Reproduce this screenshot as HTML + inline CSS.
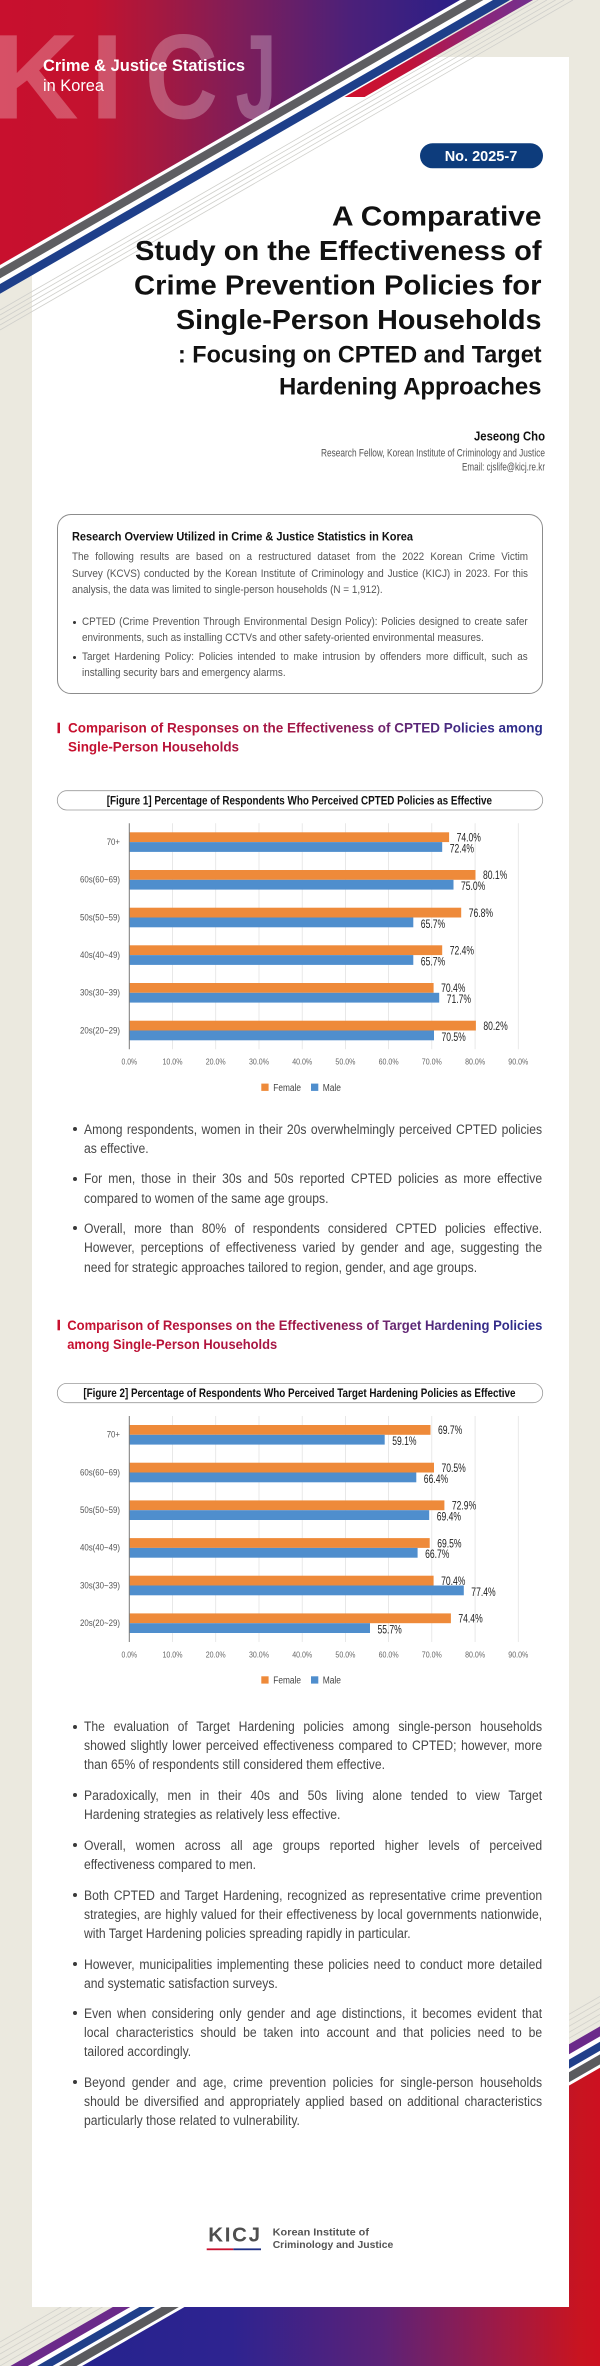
<!DOCTYPE html>
<html><head><meta charset="utf-8">
<style>
*{margin:0;padding:0;box-sizing:border-box}
html,body{width:600px;height:2366px;overflow:hidden;background:#ebe9df}
#p{position:relative;width:600px;height:2366px;overflow:hidden;background:#ebe9df;font-family:"Liberation Sans",Arial,sans-serif}
svg{position:absolute;left:0;top:0}
.card{position:absolute;left:31.5px;top:57px;width:537px;height:2249.7px;background:#fff}
.box{position:absolute;left:57.4px;top:514.3px;width:485.3px;height:179.7px;border:1px solid #8c8c8c;border-radius:14px}
.ln{position:absolute;white-space:nowrap;transform-origin:0 50%}
.j{text-align:justify;text-align-last:justify}
.b{left:84.3px;width:509px;height:19px;font-size:13.5px;line-height:19px;color:#474747;transform:scaleX(.9)}
.x{height:16px;font-size:11px;line-height:16px;color:#555;transform:scaleX(.9)}
.xp{left:72px;width:506.7px}
.xb{left:82.3px;width:495.2px}
.d{position:absolute;width:4px;height:4px;border-radius:50%;background:#3a3a3a}
.ds{position:absolute;width:3.4px;height:3.4px;border-radius:50%;background:#333}
</style></head><body><div id="p">

<!-- bottom decoration (under card) -->
<svg width="600" height="2366" viewBox="0 0 600 2366">
<defs>
<linearGradient id="gb" gradientUnits="userSpaceOnUse" x1="82" y1="0" x2="600" y2="0">
<stop offset="0" stop-color="#26238e"/><stop offset="0.29" stop-color="#2e2390"/><stop offset="0.58" stop-color="#5c2277"/><stop offset="0.81" stop-color="#a01a45"/><stop offset="0.96" stop-color="#c81420"/><stop offset="1" stop-color="#cc1020"/>
</linearGradient>
</defs>
<g stroke="#d3d2cc" stroke-width="0.8">
<line x1="0" y1="2366" x2="600" y2="2020.4"/>
<line x1="0" y1="2360" x2="600" y2="2014.4"/>
<line x1="0" y1="2354" x2="600" y2="2008.4"/>
<line x1="0" y1="2348" x2="600" y2="2002.4"/>
<line x1="0" y1="2342" x2="600" y2="1996.4"/>
</g>
<polygon points="27.8,2366 82.1,2366 600,2067.7 600,2036.4" fill="#fff"/>
<polygon points="10.4,2366 27.8,2366 600,2036.4 600,2026.4" fill="#6b2a8a"/>
<polygon points="37,2366 52.6,2366 600,2050.7 600,2041.7" fill="#203f8a"/>
<polygon points="59,2366 76.4,2366 600,2064.4 600,2054.4" fill="#5a5a5e"/>
<polygon points="82.1,2366 600,2067.7 600,2366" fill="url(#gb)"/>
</svg>

<div class="card"></div>
<div class="box"></div>

<!-- foreground svg -->
<svg width="600" height="2366" viewBox="0 0 600 2366" font-family="Liberation Sans, Arial, sans-serif">
<defs>
<linearGradient id="gt" gradientUnits="userSpaceOnUse" x1="0" y1="0" x2="460" y2="0">
<stop offset="0" stop-color="#c8102e"/><stop offset="0.2" stop-color="#c3122f"/><stop offset="0.33" stop-color="#a8183e"/><stop offset="0.54" stop-color="#7a1e5c"/><stop offset="0.76" stop-color="#4c2079"/><stop offset="1" stop-color="#2a1f88"/>
</linearGradient>
<linearGradient id="gp" gradientUnits="userSpaceOnUse" x1="345" y1="0" x2="533" y2="0">
<stop offset="0" stop-color="#d0102c"/><stop offset="0.35" stop-color="#c0123a"/><stop offset="0.7" stop-color="#8e2478"/><stop offset="1" stop-color="#72308e"/>
</linearGradient>
<linearGradient id="gh" gradientUnits="userSpaceOnUse" x1="68" y1="0" x2="543" y2="0">
<stop offset="0" stop-color="#c8102e"/><stop offset="0.5" stop-color="#a01848"/><stop offset="0.68" stop-color="#6a2670"/><stop offset="0.85" stop-color="#3a2c88"/><stop offset="1" stop-color="#2a2e8c"/>
</linearGradient>
</defs>

<!-- top decoration -->
<g stroke="#d0d0cc" stroke-width="0.8">
<line x1="0" y1="310" x2="538.2" y2="0"/>
<line x1="0" y1="315" x2="546.9" y2="0"/>
<line x1="0" y1="320" x2="555.6" y2="0"/>
<line x1="0" y1="325" x2="564.2" y2="0"/>
<line x1="0" y1="330" x2="572.9" y2="0"/>
</g>
<polygon points="460,0 510,0 0,293.8 0,265" fill="#fff"/>
<polygon points="466.7,0 483.3,0 0,278.4 0,268.8" fill="#5e5e62"/>
<polygon points="493,0 510,0 0,293.8 0,284" fill="#1e3f8a"/>
<polygon points="513,0 533,0 364.6,97 344.6,97" fill="url(#gp)"/>
<polygon points="0,0 460,0 0,265" fill="url(#gt)"/>

<!-- KICJ watermark -->
<g fill="#fff" fill-opacity="0.27" font-weight="bold" font-size="121">
<text x="-8.8" y="118.3">K</text>
<text x="90.3" y="118.3">I</text>
<text x="145" y="118.3" textLength="73" lengthAdjust="spacingAndGlyphs">C</text>
<text x="235.5" y="118.3" textLength="41" lengthAdjust="spacingAndGlyphs">J</text>
</g>
<text x="43" y="70.9" font-size="16.4" font-weight="bold" fill="#fff" textLength="202" lengthAdjust="spacingAndGlyphs">Crime &amp; Justice Statistics</text>
<text x="43" y="90.9" font-size="16.4" fill="#fff" textLength="61" lengthAdjust="spacingAndGlyphs">in Korea</text>

<!-- pill -->
<rect x="420" y="143.3" width="123" height="25" rx="12.5" fill="#0d3c7c"/>
<text x="444.7" y="161" font-size="14.5" font-weight="bold" fill="#fff" textLength="72.6" lengthAdjust="spacingAndGlyphs">No. 2025-7</text>

<!-- title -->
<g fill="#111" font-weight="bold">
<text x="332" y="225.4" font-size="28" textLength="209.5" lengthAdjust="spacingAndGlyphs">A Comparative</text>
<text x="135" y="259.9" font-size="28" textLength="406.5" lengthAdjust="spacingAndGlyphs">Study on the Effectiveness of</text>
<text x="134" y="294.4" font-size="28" textLength="407.5" lengthAdjust="spacingAndGlyphs">Crime Prevention Policies for</text>
<text x="176" y="328.9" font-size="28" textLength="365.5" lengthAdjust="spacingAndGlyphs">Single-Person Households</text>
<text x="178" y="362.6" font-size="24" textLength="363.5" lengthAdjust="spacingAndGlyphs">: Focusing on CPTED and Target</text>
<text x="279" y="394.6" font-size="24" textLength="262.5" lengthAdjust="spacingAndGlyphs">Hardening Approaches</text>
</g>

<!-- author -->
<text x="474" y="440.5" font-size="12.5" font-weight="bold" fill="#111" textLength="71" lengthAdjust="spacingAndGlyphs">Jeseong Cho</text>
<text x="321" y="456.6" font-size="11" fill="#555" textLength="224" lengthAdjust="spacingAndGlyphs">Research Fellow, Korean Institute of Criminology and Justice</text>
<text x="462" y="470.4" font-size="11" fill="#555" textLength="83" lengthAdjust="spacingAndGlyphs">Email: cjslife@kicj.re.kr</text>

<!-- box title -->
<text x="72" y="540.3" font-size="12" font-weight="bold" fill="#111" textLength="341" lengthAdjust="spacingAndGlyphs">Research Overview Utilized in Crime &amp; Justice Statistics in Korea</text>

<!-- heading 1 -->
<rect x="57.5" y="722.7" width="2.5" height="10.5" fill="#c8102e"/>
<g font-size="14" font-weight="bold" fill="url(#gh)">
<text x="68" y="732.7" textLength="474.7" lengthAdjust="spacingAndGlyphs">Comparison of Responses on the Effectiveness of CPTED Policies among</text>
<text x="68" y="751.7" textLength="171" lengthAdjust="spacingAndGlyphs">Single-Person Households</text>
</g>

<!-- heading 2 -->
<rect x="57.5" y="1319.8" width="2.5" height="10.5" fill="#c8102e"/>
<g font-size="14" font-weight="bold" fill="url(#gh)">
<text x="67.2" y="1330" textLength="475.2" lengthAdjust="spacingAndGlyphs">Comparison of Responses on the Effectiveness of Target Hardening Policies</text>
<text x="67.2" y="1349" textLength="210" lengthAdjust="spacingAndGlyphs">among Single-Person Households</text>
</g>

<!-- ===== CHART 1 ===== -->
<rect x="57.3" y="790.7" width="485.4" height="19.3" rx="9.6" fill="#fff" stroke="#9a9a9a" stroke-width="0.8"/>
<text x="106.7" y="804.4" font-size="11.5" font-weight="bold" fill="#111" textLength="385.3" lengthAdjust="spacingAndGlyphs">[Figure 1] Percentage of Respondents Who Perceived CPTED Policies as Effective</text>
<g stroke="#e3e3e3" stroke-width="0.8">
<line x1="172.5" y1="823.3" x2="172.5" y2="1049.3"/><line x1="215.7" y1="823.3" x2="215.7" y2="1049.3"/><line x1="259" y1="823.3" x2="259" y2="1049.3"/><line x1="302.2" y1="823.3" x2="302.2" y2="1049.3"/><line x1="345.4" y1="823.3" x2="345.4" y2="1049.3"/><line x1="388.6" y1="823.3" x2="388.6" y2="1049.3"/><line x1="431.8" y1="823.3" x2="431.8" y2="1049.3"/><line x1="475.1" y1="823.3" x2="475.1" y2="1049.3"/><line x1="518.3" y1="823.3" x2="518.3" y2="1049.3"/>
</g>
<g fill="#ee8a3a">
<rect x="129.3" y="832.3" width="319.8" height="9.8"/>
<rect x="129.3" y="870" width="346.2" height="9.8"/>
<rect x="129.3" y="907.7" width="331.9" height="9.8"/>
<rect x="129.3" y="945.3" width="312.9" height="9.8"/>
<rect x="129.3" y="983" width="304.3" height="9.8"/>
<rect x="129.3" y="1020.7" width="346.6" height="9.8"/>
</g>
<g fill="#4f8ecd">
<rect x="129.3" y="842.1" width="312.9" height="9.8"/>
<rect x="129.3" y="879.8" width="324.2" height="9.8"/>
<rect x="129.3" y="917.5" width="284" height="9.8"/>
<rect x="129.3" y="955.1" width="284" height="9.8"/>
<rect x="129.3" y="992.8" width="309.9" height="9.8"/>
<rect x="129.3" y="1030.5" width="304.7" height="9.8"/>
</g>
<line x1="129.3" y1="823.3" x2="129.3" y2="1049.3" stroke="#7a7a7a" stroke-width="1"/>
<g font-size="11.5" fill="#222">
<text x="456.6" y="841.5" textLength="24.3" lengthAdjust="spacingAndGlyphs">74.0%</text>
<text x="449.7" y="852.4" textLength="24.3" lengthAdjust="spacingAndGlyphs">72.4%</text>
<text x="483" y="879.2" textLength="24.3" lengthAdjust="spacingAndGlyphs">80.1%</text>
<text x="461" y="890.1" textLength="24.3" lengthAdjust="spacingAndGlyphs">75.0%</text>
<text x="468.7" y="916.9" textLength="24.3" lengthAdjust="spacingAndGlyphs">76.8%</text>
<text x="420.8" y="927.8" textLength="24.3" lengthAdjust="spacingAndGlyphs">65.7%</text>
<text x="449.7" y="954.5" textLength="24.3" lengthAdjust="spacingAndGlyphs">72.4%</text>
<text x="420.8" y="965.4" textLength="24.3" lengthAdjust="spacingAndGlyphs">65.7%</text>
<text x="441.1" y="992.2" textLength="24.3" lengthAdjust="spacingAndGlyphs">70.4%</text>
<text x="446.7" y="1003.1" textLength="24.3" lengthAdjust="spacingAndGlyphs">71.7%</text>
<text x="483.4" y="1029.9" textLength="24.3" lengthAdjust="spacingAndGlyphs">80.2%</text>
<text x="441.5" y="1040.8" textLength="24.3" lengthAdjust="spacingAndGlyphs">70.5%</text>
</g>
<g font-size="9" fill="#555">
<text x="106.7" y="844.9" textLength="13.3" lengthAdjust="spacingAndGlyphs">70+</text>
<text x="80" y="882.6" textLength="40" lengthAdjust="spacingAndGlyphs">60s(60~69)</text>
<text x="80" y="920.3" textLength="40" lengthAdjust="spacingAndGlyphs">50s(50~59)</text>
<text x="80" y="957.9" textLength="40" lengthAdjust="spacingAndGlyphs">40s(40~49)</text>
<text x="80" y="995.6" textLength="40" lengthAdjust="spacingAndGlyphs">30s(30~39)</text>
<text x="80" y="1033.3" textLength="40" lengthAdjust="spacingAndGlyphs">20s(20~29)</text>
</g>
<g font-size="8.5" fill="#666">
<text x="121.55" y="1064.6" textLength="15.5" lengthAdjust="spacingAndGlyphs">0.0%</text>
<text x="162.5" y="1064.6" textLength="20" lengthAdjust="spacingAndGlyphs">10.0%</text>
<text x="205.7" y="1064.6" textLength="20" lengthAdjust="spacingAndGlyphs">20.0%</text>
<text x="249" y="1064.6" textLength="20" lengthAdjust="spacingAndGlyphs">30.0%</text>
<text x="292.2" y="1064.6" textLength="20" lengthAdjust="spacingAndGlyphs">40.0%</text>
<text x="335.4" y="1064.6" textLength="20" lengthAdjust="spacingAndGlyphs">50.0%</text>
<text x="378.6" y="1064.6" textLength="20" lengthAdjust="spacingAndGlyphs">60.0%</text>
<text x="421.8" y="1064.6" textLength="20" lengthAdjust="spacingAndGlyphs">70.0%</text>
<text x="465.1" y="1064.6" textLength="20" lengthAdjust="spacingAndGlyphs">80.0%</text>
<text x="508.3" y="1064.6" textLength="20" lengthAdjust="spacingAndGlyphs">90.0%</text>
</g>
<rect x="261.3" y="1083.6" width="7.3" height="7.3" fill="#ee8a3a"/>
<text x="273.3" y="1090.9" font-size="10" fill="#444" textLength="27.7" lengthAdjust="spacingAndGlyphs">Female</text>
<rect x="311" y="1083.6" width="7.3" height="7.3" fill="#4f8ecd"/>
<text x="322.7" y="1090.9" font-size="10" fill="#444" textLength="18.3" lengthAdjust="spacingAndGlyphs">Male</text>

<!-- ===== CHART 2 ===== -->
<rect x="57.3" y="1383.4" width="485.4" height="19.3" rx="9.6" fill="#fff" stroke="#9a9a9a" stroke-width="0.8"/>
<text x="83.4" y="1397" font-size="11.5" font-weight="bold" fill="#111" textLength="432.1" lengthAdjust="spacingAndGlyphs">[Figure 2] Percentage of Respondents Who Perceived Target Hardening Policies as Effective</text>
<g stroke="#e3e3e3" stroke-width="0.8">
<line x1="172.5" y1="1416" x2="172.5" y2="1642"/><line x1="215.7" y1="1416" x2="215.7" y2="1642"/><line x1="259" y1="1416" x2="259" y2="1642"/><line x1="302.2" y1="1416" x2="302.2" y2="1642"/><line x1="345.4" y1="1416" x2="345.4" y2="1642"/><line x1="388.6" y1="1416" x2="388.6" y2="1642"/><line x1="431.8" y1="1416" x2="431.8" y2="1642"/><line x1="475.1" y1="1416" x2="475.1" y2="1642"/><line x1="518.3" y1="1416" x2="518.3" y2="1642"/>
</g>
<g fill="#ee8a3a">
<rect x="129.3" y="1425" width="301.2" height="9.8"/>
<rect x="129.3" y="1462.7" width="304.7" height="9.8"/>
<rect x="129.3" y="1500.4" width="315.1" height="9.8"/>
<rect x="129.3" y="1538.1" width="300.4" height="9.8"/>
<rect x="129.3" y="1575.7" width="304.3" height="9.8"/>
<rect x="129.3" y="1613.4" width="321.6" height="9.8"/>
</g>
<g fill="#4f8ecd">
<rect x="129.3" y="1434.8" width="255.4" height="9.8"/>
<rect x="129.3" y="1472.5" width="287" height="9.8"/>
<rect x="129.3" y="1510.2" width="299.9" height="9.8"/>
<rect x="129.3" y="1547.9" width="288.3" height="9.8"/>
<rect x="129.3" y="1585.5" width="334.5" height="9.8"/>
<rect x="129.3" y="1623.2" width="240.7" height="9.8"/>
</g>
<line x1="129.3" y1="1416" x2="129.3" y2="1642" stroke="#7a7a7a" stroke-width="1"/>
<g font-size="11.5" fill="#222">
<text x="438" y="1434.2" textLength="24.3" lengthAdjust="spacingAndGlyphs">69.7%</text>
<text x="392.2" y="1445.1" textLength="24.3" lengthAdjust="spacingAndGlyphs">59.1%</text>
<text x="441.5" y="1471.9" textLength="24.3" lengthAdjust="spacingAndGlyphs">70.5%</text>
<text x="423.8" y="1482.8" textLength="24.3" lengthAdjust="spacingAndGlyphs">66.4%</text>
<text x="451.9" y="1509.6" textLength="24.3" lengthAdjust="spacingAndGlyphs">72.9%</text>
<text x="436.7" y="1520.5" textLength="24.3" lengthAdjust="spacingAndGlyphs">69.4%</text>
<text x="437.2" y="1547.3" textLength="24.3" lengthAdjust="spacingAndGlyphs">69.5%</text>
<text x="425.1" y="1558.2" textLength="24.3" lengthAdjust="spacingAndGlyphs">66.7%</text>
<text x="441.1" y="1584.9" textLength="24.3" lengthAdjust="spacingAndGlyphs">70.4%</text>
<text x="471.3" y="1595.8" textLength="24.3" lengthAdjust="spacingAndGlyphs">77.4%</text>
<text x="458.4" y="1622.6" textLength="24.3" lengthAdjust="spacingAndGlyphs">74.4%</text>
<text x="377.5" y="1633.5" textLength="24.3" lengthAdjust="spacingAndGlyphs">55.7%</text>
</g>
<g font-size="9" fill="#555">
<text x="106.7" y="1437.6" textLength="13.3" lengthAdjust="spacingAndGlyphs">70+</text>
<text x="80" y="1475.3" textLength="40" lengthAdjust="spacingAndGlyphs">60s(60~69)</text>
<text x="80" y="1513" textLength="40" lengthAdjust="spacingAndGlyphs">50s(50~59)</text>
<text x="80" y="1550.7" textLength="40" lengthAdjust="spacingAndGlyphs">40s(40~49)</text>
<text x="80" y="1588.3" textLength="40" lengthAdjust="spacingAndGlyphs">30s(30~39)</text>
<text x="80" y="1626" textLength="40" lengthAdjust="spacingAndGlyphs">20s(20~29)</text>
</g>
<g font-size="8.5" fill="#666">
<text x="121.55" y="1657.3" textLength="15.5" lengthAdjust="spacingAndGlyphs">0.0%</text>
<text x="162.5" y="1657.3" textLength="20" lengthAdjust="spacingAndGlyphs">10.0%</text>
<text x="205.7" y="1657.3" textLength="20" lengthAdjust="spacingAndGlyphs">20.0%</text>
<text x="249" y="1657.3" textLength="20" lengthAdjust="spacingAndGlyphs">30.0%</text>
<text x="292.2" y="1657.3" textLength="20" lengthAdjust="spacingAndGlyphs">40.0%</text>
<text x="335.4" y="1657.3" textLength="20" lengthAdjust="spacingAndGlyphs">50.0%</text>
<text x="378.6" y="1657.3" textLength="20" lengthAdjust="spacingAndGlyphs">60.0%</text>
<text x="421.8" y="1657.3" textLength="20" lengthAdjust="spacingAndGlyphs">70.0%</text>
<text x="465.1" y="1657.3" textLength="20" lengthAdjust="spacingAndGlyphs">80.0%</text>
<text x="508.3" y="1657.3" textLength="20" lengthAdjust="spacingAndGlyphs">90.0%</text>
</g>
<rect x="261.3" y="1676.3" width="7.3" height="7.3" fill="#ee8a3a"/>
<text x="273.3" y="1683.6" font-size="10" fill="#444" textLength="27.7" lengthAdjust="spacingAndGlyphs">Female</text>
<rect x="311" y="1676.3" width="7.3" height="7.3" fill="#4f8ecd"/>
<text x="322.7" y="1683.6" font-size="10" fill="#444" textLength="18.3" lengthAdjust="spacingAndGlyphs">Male</text>

<!-- logo -->
<text x="208.3" y="2241.7" font-size="20.5" font-weight="bold" fill="#4f4f4f" textLength="51.7" lengthAdjust="spacing">KICJ</text>
<rect x="206.7" y="2248.4" width="26.6" height="1.8" fill="#c8102e"/>
<rect x="233.3" y="2248.4" width="27.7" height="1.8" fill="#1f2f85"/>
<text x="272.7" y="2235.5" font-size="10.5" font-weight="bold" fill="#555" textLength="96.3" lengthAdjust="spacingAndGlyphs">Korean Institute of</text>
<text x="272.7" y="2247.8" font-size="10.5" font-weight="bold" fill="#555" textLength="120.6" lengthAdjust="spacingAndGlyphs">Criminology and Justice</text>
</svg>

<!-- overview box text -->
<div class="ln x xp j" style="top:549.3px">The following results are based on a restructured dataset from the 2022 Korean Crime Victim</div>
<div class="ln x xp j" style="top:565.7px">Survey (KCVS) conducted by the Korean Institute of Criminology and Justice (KICJ) in 2023. For this</div>
<div class="ln x xp" style="top:582px">analysis, the data was limited to single-person households (N = 1,912).</div>
<div class="ds" style="left:72.9px;top:620.6px"></div>
<div class="ln x xb j" style="top:614.3px">CPTED (Crime Prevention Through Environmental Design Policy): Policies designed to create safer</div>
<div class="ln x xb" style="top:630.3px">environments, such as installing CCTVs and other safety-oriented environmental measures.</div>
<div class="ds" style="left:72.9px;top:655.6px"></div>
<div class="ln x xb j" style="top:649.3px">Target Hardening Policy: Policies intended to make intrusion by offenders more difficult, such as</div>
<div class="ln x xb" style="top:665.3px">installing security bars and emergency alarms.</div>

<!-- section 1 bullets -->
<div class="d" style="left:72.5px;top:1127px"></div>
<div class="ln b j" style="top:1119.5px">Among respondents, women in their 20s overwhelmingly perceived CPTED policies</div>
<div class="ln b" style="top:1138.8px">as effective.</div>
<div class="d" style="left:72.5px;top:1176.7px"></div>
<div class="ln b j" style="top:1169.2px">For men, those in their 30s and 50s reported CPTED policies as more effective</div>
<div class="ln b" style="top:1188.5px">compared to women of the same age groups.</div>
<div class="d" style="left:72.5px;top:1226.3px"></div>
<div class="ln b j" style="top:1218.8px">Overall, more than 80% of respondents considered CPTED policies effective.</div>
<div class="ln b j" style="top:1238.2px">However, perceptions of effectiveness varied by gender and age, suggesting the</div>
<div class="ln b" style="top:1257.5px">need for strategic approaches tailored to region, gender, and age groups.</div>

<!-- section 2 bullets -->
<div class="d" style="left:72.5px;top:1724.7px"></div>
<div class="ln b j" style="top:1717.2px">The evaluation of Target Hardening policies among single-person households</div>
<div class="ln b j" style="top:1736.2px">showed slightly lower perceived effectiveness compared to CPTED; however, more</div>
<div class="ln b" style="top:1755.2px">than 65% of respondents still considered them effective.</div>

<div class="d" style="left:72.5px;top:1793.3px"></div>
<div class="ln b j" style="top:1785.8px">Paradoxically, men in their 40s and 50s living alone tended to view Target</div>
<div class="ln b" style="top:1804.8px">Hardening strategies as relatively less effective.</div>

<div class="d" style="left:72.5px;top:1843.3px"></div>
<div class="ln b j" style="top:1835.8px">Overall, women across all age groups reported higher levels of perceived</div>
<div class="ln b" style="top:1854.8px">effectiveness compared to men.</div>

<div class="d" style="left:72.5px;top:1893px"></div>
<div class="ln b j" style="top:1885.5px">Both CPTED and Target Hardening, recognized as representative crime prevention</div>
<div class="ln b j" style="top:1904.5px">strategies, are highly valued for their effectiveness by local governments nationwide,</div>
<div class="ln b" style="top:1923.5px">with Target Hardening policies spreading rapidly in particular.</div>

<div class="d" style="left:72.5px;top:1962px"></div>
<div class="ln b j" style="top:1954.5px">However, municipalities implementing these policies need to conduct more detailed</div>
<div class="ln b" style="top:1973.5px">and systematic satisfaction surveys.</div>

<div class="d" style="left:72.5px;top:2011.3px"></div>
<div class="ln b j" style="top:2003.8px">Even when considering only gender and age distinctions, it becomes evident that</div>
<div class="ln b j" style="top:2023px">local characteristics should be taken into account and that policies need to be</div>
<div class="ln b" style="top:2042.2px">tailored accordingly.</div>

<div class="d" style="left:72.5px;top:2080.3px"></div>
<div class="ln b j" style="top:2072.8px">Beyond gender and age, crime prevention policies for single-person households</div>
<div class="ln b j" style="top:2092.2px">should be diversified and appropriately applied based on additional characteristics</div>
<div class="ln b" style="top:2111.2px">particularly those related to vulnerability.</div>

</div></body></html>
